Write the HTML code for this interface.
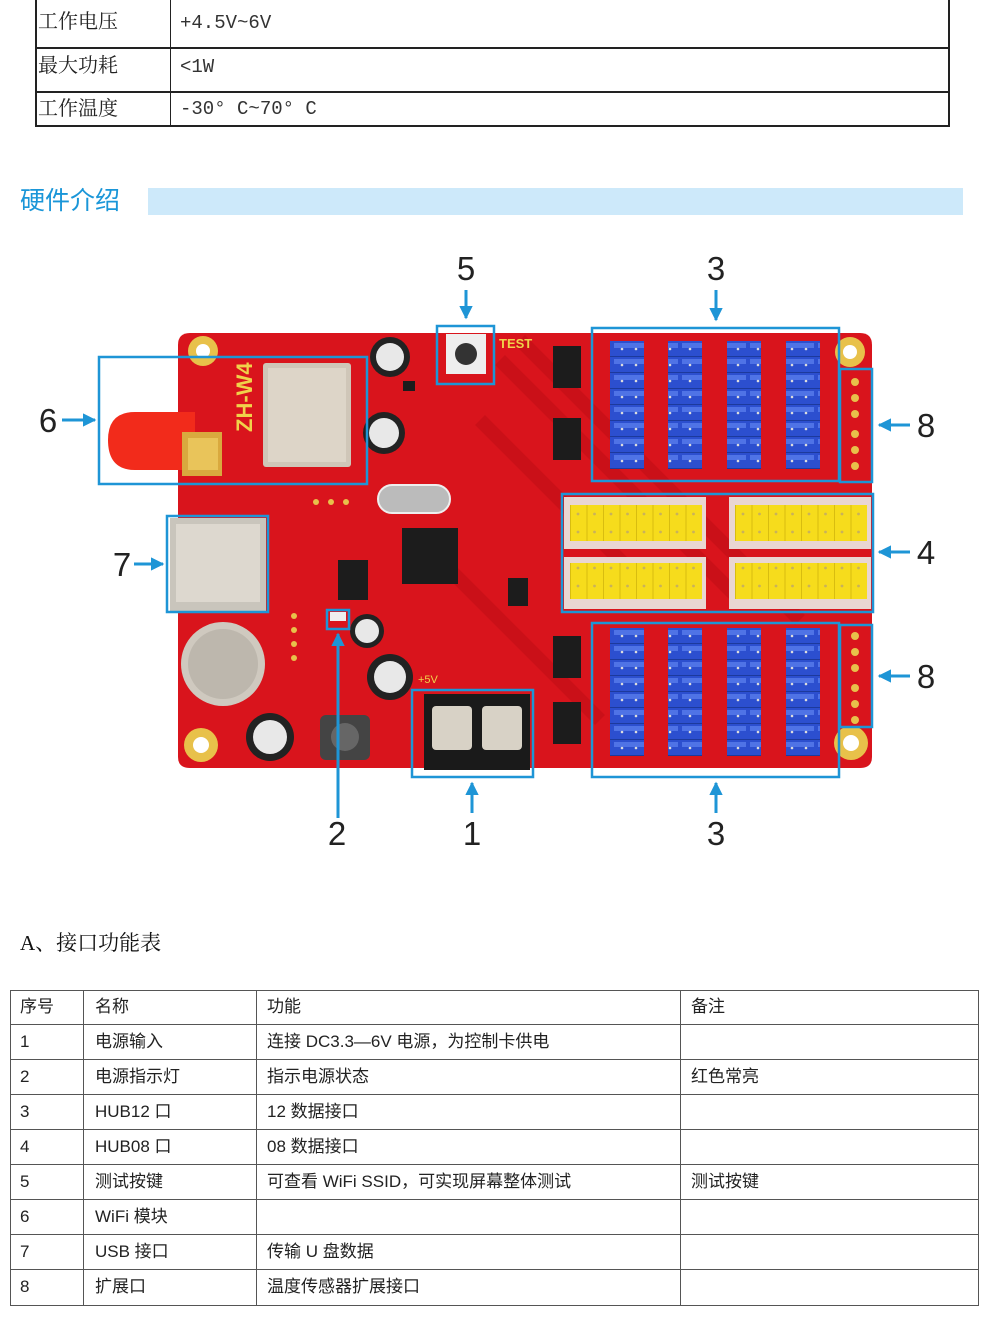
<!DOCTYPE html>
<html><head><meta charset="utf-8">
<style>
html,body{margin:0;padding:0;background:#fff;}
body{width:990px;height:1321px;position:relative;overflow:hidden;font-family:"Liberation Serif","Noto Serif CJK SC",serif;}
.abs{position:absolute;}
.cell{position:absolute;font-size:20px;line-height:24px;color:#222;white-space:nowrap;}
.v{position:absolute;font-size:19px;line-height:24px;color:#333;white-space:nowrap;font-family:"Liberation Mono","Noto Serif CJK SC",monospace;}
.t2{font-family:"Liberation Sans","Noto Sans CJK SC",sans-serif;font-size:17px;line-height:20px;height:20px;color:#222;position:absolute;white-space:nowrap;}
</style></head><body>

<!-- top table -->
<div class="abs" style="left:35px;top:0;width:911px;height:125px;border-left:2px solid #222;border-right:2px solid #222;border-bottom:2px solid #222;"></div>
<div class="abs" style="left:35px;top:47px;width:913px;height:2px;background:#222"></div>
<div class="abs" style="left:35px;top:91px;width:913px;height:2px;background:#222"></div>
<div class="abs" style="left:170px;top:0;width:1px;height:126px;background:#222"></div>
<div class="cell" style="left:38px;top:10px;">工作电压</div>
<div class="v" style="left:180px;top:11px;">+4.5V~6V</div>
<div class="cell" style="left:38px;top:54px;">最大功耗</div>
<div class="v" style="left:180px;top:55px;">&lt;1W</div>
<div class="cell" style="left:38px;top:97px;">工作温度</div>
<div class="v" style="left:180px;top:97px;">-30° C~70° C</div>

<!-- heading -->
<div class="abs" style="left:20px;top:186px;font-size:25px;line-height:30px;color:#1a96d8;font-family:'Liberation Sans','Noto Sans CJK SC',sans-serif;">硬件介绍</div>
<div class="abs" style="left:148px;top:188px;width:815px;height:27px;background:#cde9fa;"></div>

<svg class="abs" style="left:0;top:230px" width="990" height="640" viewBox="0 230 990 640" xmlns="http://www.w3.org/2000/svg">
<defs>
<pattern id="bp" x="0" y="341" width="34" height="16" patternUnits="userSpaceOnUse">
<rect x="0" y="0" width="34" height="16" fill="#2c4fcf"/><rect x="2" y="2" width="30" height="5" fill="#4f73e6"/>
<rect x="0" y="15" width="34" height="1" fill="#1d3a9c"/>
<circle cx="10" cy="8" r="1.3" fill="#ddd"/><circle cx="24" cy="8" r="1.3" fill="#ddd"/></pattern>
<pattern id="bp2" x="0" y="628" width="34" height="16" patternUnits="userSpaceOnUse">
<rect x="0" y="0" width="34" height="16" fill="#2c4fcf"/><rect x="2" y="2" width="30" height="5" fill="#4f73e6"/>
<rect x="0" y="15" width="34" height="1" fill="#1d3a9c"/>
<circle cx="10" cy="8" r="1.3" fill="#ddd"/><circle cx="24" cy="8" r="1.3" fill="#ddd"/></pattern>
<pattern id="yp" x="570" y="505" width="16.5" height="18" patternUnits="userSpaceOnUse">
<rect x="0" y="0" width="16.5" height="18" fill="#f6dc1c"/><rect x="0" y="0" width="1" height="18" fill="#d8bd10"/><circle cx="8" cy="9" r="1.4" fill="#c9b25a"/></pattern>
<marker id="ah" viewBox="0 0 10 10" refX="9" refY="5" markerWidth="4.5" markerHeight="4.5" orient="auto"><path d="M0,0 L10,5 L0,10 z" fill="#1e95d6"/></marker>
</defs>

<!-- board -->
<path d="M190,333 H860 Q872,333 872,345 V757 Q872,768 860,768 H190 Q178,768 178,757 V345 Q178,333 190,333 Z" fill="#d9141c"/>
<path d="M500,360 L740,600 M520,340 L800,620 M480,420 L640,580 M440,560 L600,720" stroke="#c10e16" stroke-width="14" opacity="0.6"/>
<g fill="#e8c14a"><circle cx="203" cy="351" r="15"/><circle cx="850" cy="352" r="15"/><circle cx="201" cy="745" r="17"/><circle cx="851" cy="743" r="17"/></g>
<g fill="#fff"><circle cx="203" cy="351" r="7"/><circle cx="850" cy="352" r="7"/><circle cx="201" cy="745" r="8"/><circle cx="851" cy="743" r="8"/></g>
<path d="M195,412 H135 Q108,412 108,440 Q108,470 135,470 H195 Z" fill="#f22b1b"/>
<rect x="182" y="432" width="40" height="44" fill="#d9a93e"/>
<rect x="188" y="438" width="30" height="32" fill="#e9c45a"/>
<text x="252" y="432" transform="rotate(-90 252 432)" font-family="Liberation Sans,sans-serif" font-weight="bold" font-size="22" fill="#f0d24a">ZH-W4</text>
<rect x="263" y="363" width="88" height="104" rx="3" fill="#cfc6b8"/>
<rect x="268" y="368" width="78" height="94" fill="#ddd5c8"/>
<g><circle cx="390" cy="357" r="20" fill="#222"/><circle cx="390" cy="357" r="14" fill="#e8e8e8"/>
<circle cx="384" cy="433" r="21" fill="#222"/><circle cx="384" cy="433" r="15" fill="#e8e8e8"/>
<circle cx="367" cy="631" r="17" fill="#222"/><circle cx="367" cy="631" r="12" fill="#e8e8e8"/>
<circle cx="390" cy="677" r="23" fill="#222"/><circle cx="390" cy="677" r="16" fill="#e8e8e8"/>
<circle cx="270" cy="737" r="24" fill="#222"/><circle cx="270" cy="737" r="17" fill="#e8e8e8"/></g>
<rect x="378" y="485" width="72" height="28" rx="14" fill="#bbb" stroke="#eee" stroke-width="2"/>
<rect x="170" y="518" width="96" height="93" fill="#c9c5bc"/><rect x="176" y="524" width="84" height="78" fill="#ddd8cf"/>
<circle cx="223" cy="664" r="42" fill="#cfc9bf"/><circle cx="223" cy="664" r="35" fill="#bdb7ad"/>
<rect x="320" y="715" width="50" height="45" rx="6" fill="#444"/><circle cx="345" cy="737" r="14" fill="#666"/>
<g fill="#1c1c1c"><rect x="402" y="528" width="56" height="56"/><rect x="338" y="560" width="30" height="40"/><rect x="508" y="578" width="20" height="28"/>
<rect x="553" y="346" width="28" height="42"/><rect x="553" y="418" width="28" height="42"/><rect x="553" y="636" width="28" height="42"/><rect x="553" y="702" width="28" height="42"/>
<rect x="403" y="381" width="12" height="10"/></g>
<rect x="446" y="334" width="40" height="40" fill="#eee"/><circle cx="466" cy="354" r="11" fill="#333"/>
<text x="499" y="348" font-family="Liberation Sans,sans-serif" font-weight="bold" font-size="13" fill="#f0d24a">TEST</text>
<text x="418" y="683" font-family="Liberation Sans,sans-serif" font-size="11" fill="#f0d24a">+5V</text>
<rect x="424" y="694" width="106" height="76" fill="#1a1a1a"/>
<rect x="432" y="706" width="40" height="44" rx="4" fill="#d8d2c6"/><rect x="482" y="706" width="40" height="44" rx="4" fill="#d8d2c6"/>
<g fill="#e8c14a"><circle cx="316" cy="502" r="3"/><circle cx="331" cy="502" r="3"/><circle cx="346" cy="502" r="3"/>
<circle cx="294" cy="616" r="3"/><circle cx="294" cy="630" r="3"/><circle cx="294" cy="644" r="3"/><circle cx="294" cy="658" r="3"/>
<circle cx="855" cy="382" r="4"/><circle cx="855" cy="398" r="4"/><circle cx="855" cy="414" r="4"/><circle cx="855" cy="434" r="4"/><circle cx="855" cy="450" r="4"/><circle cx="855" cy="466" r="4"/>
<circle cx="855" cy="636" r="4"/><circle cx="855" cy="652" r="4"/><circle cx="855" cy="668" r="4"/><circle cx="855" cy="688" r="4"/><circle cx="855" cy="704" r="4"/><circle cx="855" cy="720" r="4"/></g>
<rect x="330" y="612" width="16" height="9" fill="#eee"/>
<g fill="url(#bp)"><rect x="610" y="341" width="34" height="128"/><rect x="668" y="341" width="34" height="128"/><rect x="727" y="341" width="34" height="128"/><rect x="786" y="341" width="34" height="128"/></g>
<g fill="url(#bp2)"><rect x="610" y="628" width="34" height="128"/><rect x="668" y="628" width="34" height="128"/><rect x="727" y="628" width="34" height="128"/><rect x="786" y="628" width="34" height="128"/></g>
<g fill="#e9d6d2"><rect x="564" y="497" width="142" height="52"/><rect x="729" y="497" width="142" height="52"/><rect x="564" y="557" width="142" height="52"/><rect x="729" y="557" width="142" height="52"/></g>
<g fill="url(#yp)"><rect x="570" y="505" width="132" height="36"/><rect x="735" y="505" width="132" height="36"/><rect x="570" y="563" width="132" height="36"/><rect x="735" y="563" width="132" height="36"/></g>

<g fill="none" stroke="#1e95d6" stroke-width="2.5">
<rect x="437" y="326" width="57" height="58"/>
<rect x="592" y="328" width="247" height="153"/>
<rect x="840" y="369" width="32" height="113"/>
<rect x="99" y="357" width="268" height="127"/>
<rect x="167" y="516" width="101" height="96"/>
<rect x="562" y="494" width="311" height="118"/>
<rect x="840" y="625" width="32" height="102"/>
<rect x="327" y="610" width="22" height="19"/>
<rect x="412" y="690" width="121" height="87"/>
<rect x="592" y="623" width="247" height="154"/>
</g>
<g stroke="#1e95d6" stroke-width="3" marker-end="url(#ah)">
<line x1="466" y1="290" x2="466" y2="318"/>
<line x1="716" y1="290" x2="716" y2="320"/>
<line x1="910" y1="425" x2="879" y2="425"/>
<line x1="62" y1="420" x2="95" y2="420"/>
<line x1="134" y1="564" x2="163" y2="564"/>
<line x1="910" y1="552" x2="879" y2="552"/>
<line x1="910" y1="676" x2="879" y2="676"/>
<line x1="338" y1="818" x2="338" y2="634"/>
<line x1="472" y1="813" x2="472" y2="783"/>
<line x1="716" y1="813" x2="716" y2="783"/>
</g>
<g font-family="Liberation Sans,sans-serif" font-size="33" fill="#222" text-anchor="middle">
<text x="466" y="280">5</text><text x="716" y="280">3</text>
<text x="926" y="437">8</text><text x="48" y="432">6</text><text x="122" y="576">7</text>
<text x="926" y="564">4</text><text x="926" y="688">8</text>
<text x="337" y="845">2</text><text x="472" y="845">1</text><text x="716" y="845">3</text>
</g>
</svg>

<div class="abs" style="left:20px;top:930px;font-size:21px;line-height:26px;color:#111;">A、接口功能表</div>

<div class="abs" style="left:10px;top:990px;width:967px;height:314px;border:1px solid #555;"></div>
<div class="abs" style="left:10px;top:1024px;width:968px;height:1px;background:#555"></div>
<div class="abs" style="left:10px;top:1059px;width:968px;height:1px;background:#555"></div>
<div class="abs" style="left:10px;top:1094px;width:968px;height:1px;background:#555"></div>
<div class="abs" style="left:10px;top:1129px;width:968px;height:1px;background:#555"></div>
<div class="abs" style="left:10px;top:1164px;width:968px;height:1px;background:#555"></div>
<div class="abs" style="left:10px;top:1199px;width:968px;height:1px;background:#555"></div>
<div class="abs" style="left:10px;top:1234px;width:968px;height:1px;background:#555"></div>
<div class="abs" style="left:10px;top:1269px;width:968px;height:1px;background:#555"></div>
<div class="abs" style="left:83px;top:990px;width:1px;height:315px;background:#555"></div>
<div class="abs" style="left:256px;top:990px;width:1px;height:315px;background:#555"></div>
<div class="abs" style="left:680px;top:990px;width:1px;height:315px;background:#555"></div>

<div class="t2" style="left:20px;top:997px;">序号</div><div class="t2" style="left:95px;top:997px;">名称</div><div class="t2" style="left:267px;top:997px;">功能</div><div class="t2" style="left:691px;top:997px;">备注</div>
<div class="t2" style="left:20px;top:1032px;">1</div><div class="t2" style="left:95px;top:1032px;">电源输入</div><div class="t2" style="left:267px;top:1032px;">连接 DC3.3—6V 电源，为控制卡供电</div>
<div class="t2" style="left:20px;top:1067px;">2</div><div class="t2" style="left:95px;top:1067px;">电源指示灯</div><div class="t2" style="left:267px;top:1067px;">指示电源状态</div><div class="t2" style="left:691px;top:1067px;">红色常亮</div>
<div class="t2" style="left:20px;top:1102px;">3</div><div class="t2" style="left:95px;top:1102px;">HUB12 口</div><div class="t2" style="left:267px;top:1102px;">12 数据接口</div>
<div class="t2" style="left:20px;top:1137px;">4</div><div class="t2" style="left:95px;top:1137px;">HUB08 口</div><div class="t2" style="left:267px;top:1137px;">08 数据接口</div>
<div class="t2" style="left:20px;top:1172px;">5</div><div class="t2" style="left:95px;top:1172px;">测试按键</div><div class="t2" style="left:267px;top:1172px;">可查看 WiFi SSID，可实现屏幕整体测试</div><div class="t2" style="left:691px;top:1172px;">测试按键</div>
<div class="t2" style="left:20px;top:1207px;">6</div><div class="t2" style="left:95px;top:1207px;">WiFi 模块</div>
<div class="t2" style="left:20px;top:1242px;">7</div><div class="t2" style="left:95px;top:1242px;">USB 接口</div><div class="t2" style="left:267px;top:1242px;">传输 U 盘数据</div>
<div class="t2" style="left:20px;top:1277px;">8</div><div class="t2" style="left:95px;top:1277px;">扩展口</div><div class="t2" style="left:267px;top:1277px;">温度传感器扩展接口</div>
</body></html>
